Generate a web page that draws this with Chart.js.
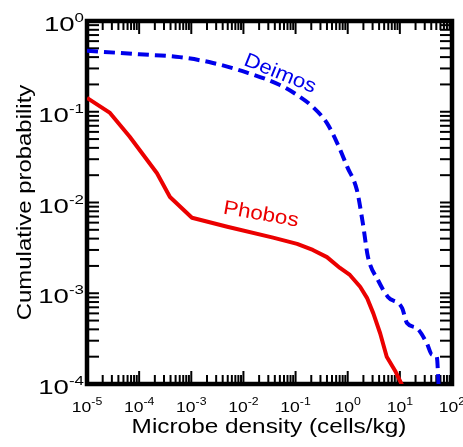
<!DOCTYPE html>
<html>
<head>
<meta charset="utf-8">
<script src="https://cdn.jsdelivr.net/npm/chart.js@4/dist/chart.umd.min.js"></script>
<style>
  html, body { margin: 0; padding: 0; background: #fff; }
  canvas { display: block; }
</style>
</head>
<body>
<canvas id="chart" width="463" height="447"></canvas>
<script>
// Courbes (densité en cellules/kg, probabilité cumulée)
const deimosX = [1e-5, 1e-4, 6e-4, 2.6e-3, 0.0117, 0.05, 0.107, 0.214, 0.4, 0.63, 0.98, 1.5, 1.95, 2.45, 3.8, 5.9, 11, 13.7, 21.4, 33, 41.5, 51, 55, 56];
const deimosY = [0.47, 0.43, 0.40, 0.345, 0.27, 0.197, 0.153, 0.113, 0.075, 0.045, 0.0247, 0.0137, 0.0059, 0.0025, 0.0014, 0.00091, 0.00069, 0.00047, 0.00041, 0.00028, 0.00021, 0.0002, 0.000103, 0.00008];

const phobosX = [1e-5, 2.76e-5, 6.6e-5, 2.2e-4, 3.9e-4, 1.03e-3, 4.9e-3, 0.037, 0.107, 0.214, 0.4, 0.71, 1.1, 1.73, 2.34, 3.1, 4.2, 5.6, 8.1, 11, 11.5];
const phobosY = [0.142, 0.097, 0.053, 0.021, 0.0115, 0.0068, 0.0054, 0.0041, 0.0035, 0.0030, 0.0025, 0.0019, 0.00159, 0.00118, 0.00089, 0.0006, 0.00036, 0.0002, 0.00014, 0.0000975, 0.00009];

// Graduations (exposants des puissances de 10)
const xDecades = [-5, -4, -3, -2, -1, 0, 1, 2];
const yDecades = [-4, -3, -2, -1, 0];

const xTitle = 'Microbe density (cells/kg)';
const yTitle = 'Cumulative probability';

const RED = 'rgb(235,0,0)';
const BLUE = 'rgb(0,0,235)';
const FONT = '"Liberation Sans", Arial, Helvetica, sans-serif';

// Texte étiré horizontalement (la police de la figure est plus large qu'Arial)
function drawText(ctx, text, x, y, size, sx, align, angle, color) {
    ctx.save();
    ctx.translate(x, y);
    ctx.rotate(angle || 0);
    ctx.scale(sx, 1);
    ctx.font = size + 'px ' + FONT;
    ctx.fillStyle = color || '#000';
    ctx.textAlign = align;
    ctx.textBaseline = 'alphabetic';
    ctx.fillText(text, 0, 0);
    ctx.restore();
}

function textWidth(ctx, text, size, sx) {
    ctx.font = size + 'px ' + FONT;
    return ctx.measureText(text).width * sx;
}

function line(ctx, x1, y1, x2, y2) {
    ctx.beginPath();
    ctx.moveTo(x1, y1);
    ctx.lineTo(x2, y2);
    ctx.stroke();
}

// Cadre et graduations vers l'intérieur, sur les quatre côtés
const framePlugin = {
    id: 'frame',
    beforeDatasetsDraw(chart) {
        const { ctx, chartArea: a, scales: { x, y } } = chart;
        ctx.save();
        ctx.strokeStyle = '#000';
        ctx.lineWidth = 2;
        ctx.lineCap = 'butt';

        xDecades.forEach(e => {
            for (let d = 1; d <= 9; d++) {
                const v = d * Math.pow(10, e);
                if (v > x.max * 1.0001) break;
                const px = x.getPixelForValue(v);
                const len = d === 1 ? 13 : 9;
                line(ctx, px, a.bottom, px, a.bottom - len);
                line(ctx, px, a.top, px, a.top + len);
            }
        });

        yDecades.forEach(e => {
            for (let d = 1; d <= 9; d++) {
                const v = d * Math.pow(10, e);
                if (v > y.max * 1.0001) break;
                const py = y.getPixelForValue(v);
                line(ctx, a.left, py, a.left + 12, py);
                line(ctx, a.right, py, a.right - 12, py);
            }
        });

        ctx.lineWidth = 4.5;
        ctx.lineJoin = 'miter';
        ctx.strokeRect(a.left, a.top, a.right - a.left, a.bottom - a.top);
        ctx.restore();
    },
    afterDraw(chart) {
        const { ctx, chartArea: a, scales: { x, y } } = chart;

        // étiquettes de l'axe x : 10^n
        xDecades.forEach(e => {
            const px = x.getPixelForValue(Math.pow(10, e));
            const exp = String(e);
            const w1 = textWidth(ctx, '10', 15, 1.17);
            const w2 = textWidth(ctx, exp, 10.5, 1.17);
            const start = px - (w1 + w2) / 2;
            drawText(ctx, '10', start, a.bottom + 27.5, 15, 1.17, 'left');
            drawText(ctx, exp, start + w1, a.bottom + 20.5, 10.5, 1.17, 'left');
        });

        // étiquettes de l'axe y
        yDecades.forEach(e => {
            const py = y.getPixelForValue(Math.pow(10, e));
            const exp = String(e);
            const w2 = textWidth(ctx, exp, 13, 1.3);
            const right = a.left - 3;
            drawText(ctx, exp, right, py + 1, 13, 1.3, 'right');
            drawText(ctx, '10', right - w2, py + 10, 20, 1.38, 'right');
        });

        // titres des axes
        drawText(ctx, xTitle, 269, 433, 21, 1.16, 'center');
        drawText(ctx, yTitle, 31, 202.5, 21, 1.14, 'center', -Math.PI / 2);

        // noms des courbes
        drawText(ctx, 'Deimos', 278, 79, 20, 1.12, 'center', 22 * Math.PI / 180, BLUE);
        drawText(ctx, 'Phobos', 260, 220, 20, 1.12, 'center', 10 * Math.PI / 180, RED);
    }
};

const toPoints = (xs, ys) => xs.map((v, i) => ({ x: v, y: ys[i] }));

new Chart(document.getElementById('chart').getContext('2d'), {
    type: 'scatter',
    data: {
        datasets: [{
            label: 'Deimos',
            data: toPoints(deimosX, deimosY),
            showLine: true,
            borderColor: BLUE,
            borderWidth: 4,
            borderDash: [11, 6],
            borderCapStyle: 'butt',
            pointRadius: 0,
            cubicInterpolationMode: 'monotone',
            fill: false,
        },
        {
            label: 'Phobos',
            data: toPoints(phobosX, phobosY),
            showLine: true,
            borderColor: RED,
            borderWidth: 4,
            borderJoinStyle: 'round',
            pointRadius: 0,
            tension: 0,
            fill: false,
        }]
    },
    options: {
        responsive: false,
        animation: false,
        devicePixelRatio: 1,
        layout: { padding: { left: 87, right: 11, top: 21, bottom: 63 } },
        plugins: {
            legend: { display: false },
            tooltip: { enabled: false }
        },
        scales: {
            x: { type: 'logarithmic', min: 1e-5, max: 1e2, display: false },
            y: { type: 'logarithmic', min: 1e-4, max: 1, display: false }
        }
    },
    plugins: [framePlugin]
});
</script>
</body>
</html>
